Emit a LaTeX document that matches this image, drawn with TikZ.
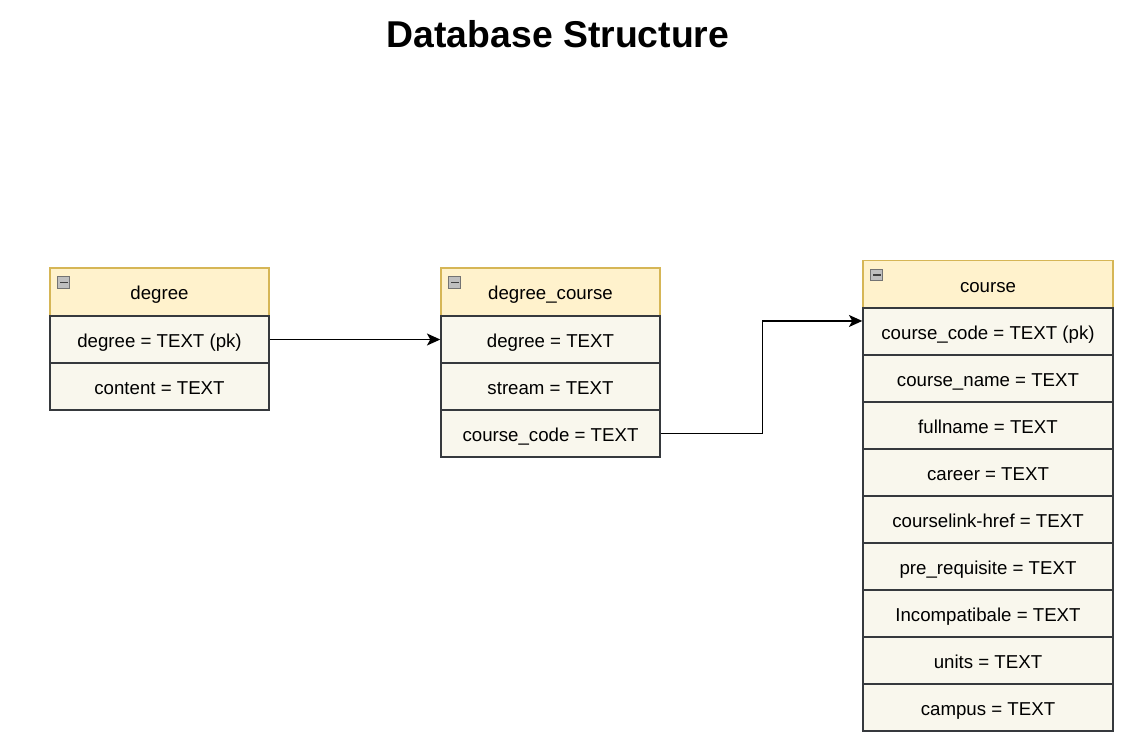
\documentclass[tikz,border=0pt]{standalone}
\usepackage{fontspec}
\setmainfont{Liberation Sans}
\usetikzlibrary{arrows.meta,calc}
\definecolor{hdrfill}{HTML}{FFF2CC}
\definecolor{hdrdraw}{HTML}{D6B656}
\definecolor{rowfill}{HTML}{F9F7ED}
\definecolor{rowdraw}{HTML}{36393D}
\tikzset{
  hdr/.style={draw=hdrdraw,fill=hdrfill,line width=1pt,minimum width=#1,minimum height=36pt,inner sep=0pt,text height=11.5pt,text depth=0pt,font=\fontsize{14pt}{16pt}\selectfont},
  field/.style={draw=rowdraw,fill=rowfill,line width=1.1pt,minimum width=#1,minimum height=35.25pt,inner sep=0pt,text height=12pt,text depth=0pt,font=\fontsize{14pt}{16pt}\selectfont},
  collapse/.style={draw=black!55,fill=black!25,line width=0.7pt,minimum width=9pt,minimum height=8.5pt,inner sep=0pt,anchor=north west},
  arr/.style={draw=black,line width=1.1pt,-{Stealth[length=10pt,width=9pt,inset=2.5pt]}},
}
\newcommand{\minusicon}[1]{%
  \node[collapse] (#1) at ([xshift=6pt,yshift=-6.75pt]#1h.north west) {};
  \draw[line width=1pt,black!75] ([xshift=2pt]#1.west) -- ([xshift=-2pt]#1.east);}
\begin{document}
\begin{tikzpicture}[x=0.75pt,y=-0.75pt]
\useasboundingbox (0,0) rectangle (1130,739);
\node[font=\bfseries\fontsize{28pt}{32pt}\selectfont] (title) at (558,34) {Database Structure};
% degree
\node[hdr=164.25pt] (dgh) at (159.5,292) {degree};
\node[field=164.25pt] (dg1) at (159.5,339.5) {degree = TEXT (pk)};
\node[field=164.25pt] (dg2) at (159.5,386.5) {content = TEXT};
\minusicon{dg}
% degree_course
\node[hdr=164.25pt] (dch) at (550.5,292) {degree\_course};
\node[field=164.25pt] (dc1) at (550.5,339.5) {degree = TEXT};
\node[field=164.25pt] (dc2) at (550.5,386.5) {stream = TEXT};
\node[field=164.25pt] (dc3) at (550.5,433.5) {course\_code = TEXT};
\minusicon{dc}
% course
\node[hdr=187.5pt] (ch) at (988,284.5) {course};
\node[field=187.5pt] (c1) at (988,331.5) {course\_code = TEXT (pk)};
\node[field=187.5pt] (c2) at (988,378.5) {course\_name = TEXT};
\node[field=187.5pt] (c3) at (988,425.5) {fullname = TEXT};
\node[field=187.5pt] (c4) at (988,472.5) {career = TEXT};
\node[field=187.5pt] (c5) at (988,519.5) {courselink-href = TEXT};
\node[field=187.5pt] (c6) at (988,566.5) {pre\_requisite = TEXT};
\node[field=187.5pt] (c7) at (988,613.5) {Incompatibale = TEXT};
\node[field=187.5pt] (c8) at (988,660.5) {units = TEXT};
\node[field=187.5pt] (c9) at (988,707.5) {campus = TEXT};
\minusicon{c}
% connectors
\draw[arr] (dg1.east) -- (dc1.west);
\coordinate (cin) at ([yshift=7.9pt]c1.west);
\coordinate (bend) at ([xshift=76.5pt]dc3.east);
\draw[arr] (dc3.east) -- (bend) |- (cin);
\end{tikzpicture}
\end{document}
